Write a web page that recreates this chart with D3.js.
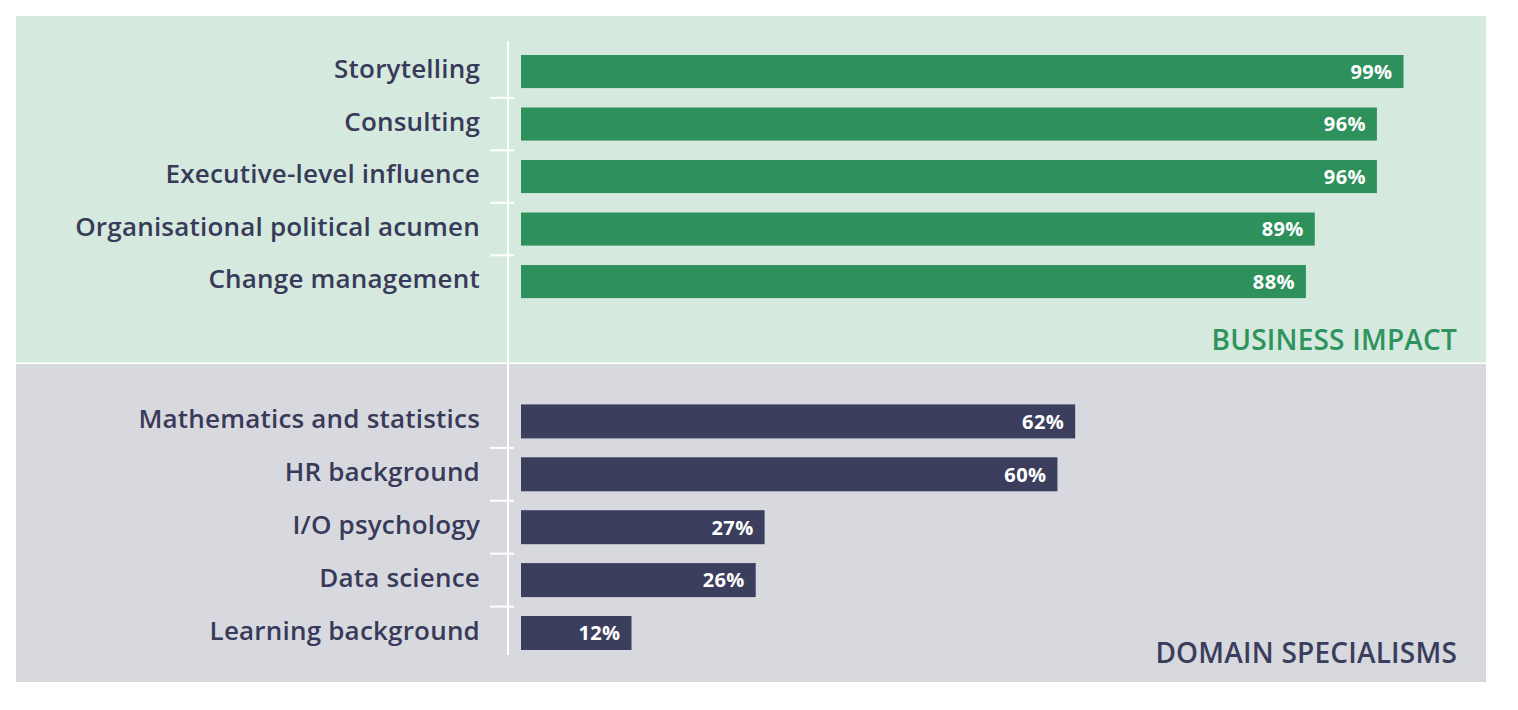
<!DOCTYPE html>
<html>
<head>
<meta charset="utf-8">
<script src="https://cdn.jsdelivr.net/npm/d3@7"></script>
<style>
  html, body { margin: 0; padding: 0; background: #ffffff; }
  svg { display: block; }
  text { font-family: "Open Sans", "Noto Sans", sans-serif; }
</style>
</head>
<body>
<svg id="chart" width="1518" height="710"></svg>
<script>
// ---- Data ----
const businessCategories = ["Storytelling", "Consulting", "Executive-level influence", "Organisational political acumen", "Change management"];
const businessValues = [99, 96, 96, 89, 88];
const domainCategories = ["Mathematics and statistics", "HR background", "I/O psychology", "Data science", "Learning background"];
const domainValues = [62, 60, 27, 26, 12];
const panelTitles = ["BUSINESS IMPACT", "DOMAIN SPECIALISMS"];

// ---- Style ----
const C = {
  topBg: "#d5e9de",
  botBg: "#d8d9df",
  green: "#2e915c",
  navy: "#3c3e5e",
  label: "#383a59",
  titleGreen: "#2e935c",
  titleNavy: "#3b3d5c"
};

const svg = d3.select("#chart");

// panels
const panelX = 16, panelW = 1470;
svg.append("rect").attr("x", panelX).attr("y", 16).attr("width", panelW).attr("height", 346.5).attr("fill", C.topBg);
svg.append("rect").attr("x", panelX).attr("y", 364).attr("width", panelW).attr("height", 318).attr("fill", C.botBg);

// scales
const x = d3.scaleLinear().domain([0, 100]).range([525, 525 + 887.4]);
const barStart = 521;
const yTop = d3.scaleBand().domain(businessCategories).range([55, 298.1]).paddingInner(0.37).paddingOuter(0);
const yBot = d3.scaleBand().domain(domainCategories).range([404.4, 650]).paddingInner(0.357).paddingOuter(0);

// axis line
const axisX = 508;
svg.append("line").attr("x1", axisX).attr("x2", axisX).attr("y1", 41).attr("y2", 655)
  .attr("stroke", "#ffffff").attr("stroke-width", 2);

function drawGroup(cats, vals, y, fill) {
  const data = cats.map((c, i) => ({ c, v: vals[i] }));
  const g = svg.append("g");
  // ticks between bands
  const gapHalf = (y.step() - y.bandwidth()) / 2;
  g.selectAll("line.tick").data(cats.slice(1)).join("line")
    .attr("class", "tick")
    .attr("x1", 490).attr("x2", 514)
    .attr("y1", d => y(d) - gapHalf).attr("y2", d => y(d) - gapHalf)
    .attr("stroke", "#ffffff").attr("stroke-width", 2);
  // bars
  g.selectAll("rect.bar").data(data).join("rect")
    .attr("class", "bar")
    .attr("x", barStart)
    .attr("y", d => y(d.c))
    .attr("width", d => x(d.v) - barStart)
    .attr("height", y.bandwidth())
    .attr("fill", fill);
  // value labels
  g.selectAll("text.val").data(data).join("text")
    .attr("class", "val")
    .attr("x", d => x(d.v) - 11)
    .attr("y", d => y(d.c) + y.bandwidth() / 2)
    .attr("dy", "0.37em")
    .attr("text-anchor", "end")
    .attr("fill", "#ffffff")
    .attr("font-size", 20)
    .attr("font-weight", 700)
    .attr("letter-spacing", 0.4)
    .text(d => d.v + "%");
  // category labels
  g.selectAll("text.cat").data(data).join("text")
    .attr("class", "cat")
    .attr("x", 480)
    .attr("y", d => y(d.c) + y.bandwidth() / 2)
    .attr("dy", "0.26em")
    .attr("text-anchor", "end")
    .attr("fill", C.label)
    .attr("font-size", 26)
    .attr("font-weight", 600)
    .attr("letter-spacing", 0.2)
    .text(d => d.c);
}

drawGroup(businessCategories, businessValues, yTop, C.green);
drawGroup(domainCategories, domainValues, yBot, C.navy);

// panel titles
svg.append("text").attr("x", 1457).attr("y", 350).attr("text-anchor", "end")
  .attr("font-size", 28).attr("font-weight", 600).attr("letter-spacing", 0.2).attr("fill", C.titleGreen).text(panelTitles[0]);
svg.append("text").attr("x", 1457).attr("y", 663).attr("text-anchor", "end")
  .attr("font-size", 28).attr("font-weight", 600).attr("letter-spacing", 0.2).attr("fill", C.titleNavy).text(panelTitles[1]);
</script>
</body>
</html>
